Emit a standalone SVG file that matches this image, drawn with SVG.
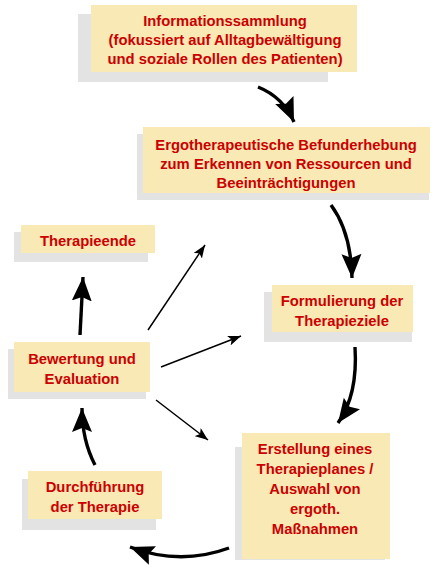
<svg xmlns="http://www.w3.org/2000/svg" width="433" height="565" viewBox="0 0 433 565">
<style>
.sh{fill:#E3E3E3}
.bx{fill:#F9E9B5}
.t{font-family:"Liberation Sans",Arial,sans-serif;font-weight:bold;font-size:14.8px;fill:#CC0000;text-anchor:middle}
.thick{fill:none;stroke:#000;stroke-width:3.4}
.thin{fill:none;stroke:#000;stroke-width:1.5}
</style>
<defs>
<marker id="big" markerUnits="userSpaceOnUse" markerWidth="26" markerHeight="22" refX="24" refY="10" orient="auto" viewBox="0 0 26 20">
<path d="M0,0 L24,10 L0,20 L4,10 Z" fill="#000"/>
</marker>
<marker id="small" markerUnits="userSpaceOnUse" markerWidth="14" markerHeight="10" refX="13" refY="5" orient="auto" viewBox="0 0 14 10">
<path d="M0,0 L13,5 L0,10 L3,5 Z" fill="#000"/>
</marker>
</defs>
<g id="n1">
<rect class="sh" x="78" y="14" width="250" height="68"/>
<rect class="bx" x="91" y="5" width="266" height="67"/>
<text class="t" x="225" y="26">Informationssammlung</text>
<text class="t" x="225" y="45">(fokussiert auf Alltagbewältigung</text>
<text class="t" x="225" y="64">und soziale Rollen des Patienten)</text>
</g>
<g id="n2">
<rect class="sh" x="137" y="134" width="292" height="66"/>
<rect class="bx" x="143" y="127" width="287" height="66"/>
<text class="t" x="286" y="150">Ergotherapeutische Befunderhebung</text>
<text class="t" x="286" y="169">zum Erkennen von Ressourcen und</text>
<text class="t" x="286" y="188">Beeinträchtigungen</text>
</g>
<g id="n3">
<rect class="sh" x="14" y="232" width="134" height="30"/>
<rect class="bx" x="21" y="225" width="134" height="28"/>
<text class="t" x="88" y="246">Therapieende</text>
</g>
<g id="n4">
<rect class="sh" x="264" y="292" width="148" height="50"/>
<rect class="bx" x="272" y="285" width="141" height="47"/>
<text class="t" x="342" y="306">Formulierung der</text>
<text class="t" x="342" y="326">Therapieziele</text>
</g>
<g id="n5">
<rect class="sh" x="8" y="349" width="138" height="50"/>
<rect class="bx" x="14" y="342" width="136" height="50"/>
<text class="t" x="82" y="364">Bewertung und</text>
<text class="t" x="82" y="384">Evaluation</text>
</g>
<g id="n6">
<rect class="sh" x="235" y="447" width="150" height="113"/>
<rect class="bx" x="242" y="433" width="148" height="126"/>
<text class="t" x="315" y="454">Erstellung eines</text>
<text class="t" x="315" y="474">Therapieplanes /</text>
<text class="t" x="315" y="494">Auswahl von</text>
<text class="t" x="315" y="514">ergoth.</text>
<text class="t" x="315" y="534">Maßnahmen</text>
</g>
<g id="n7">
<rect class="sh" x="22" y="479" width="134" height="51"/>
<rect class="bx" x="28" y="471" width="134" height="48"/>
<text class="t" x="95" y="492">Durchführung</text>
<text class="t" x="95" y="512">der Therapie</text>
</g>
<g id="connectors">
<path class="thick" d="M258,87 Q283,97 294,122" marker-end="url(#big)"/>
<path class="thick" d="M331,205 Q351,232 352,278" marker-end="url(#big)"/>
<path class="thick" d="M355,347 Q358,395 338,423" marker-end="url(#big)"/>
<path class="thick" d="M229,548 Q180,566 130,547" marker-end="url(#big)"/>
<path class="thick" d="M95,465 Q82,440 82,408" marker-end="url(#big)"/>
<path class="thick" d="M80,335 L83,277" marker-end="url(#big)"/>
<path class="thin" d="M148,330 L205,245" marker-end="url(#small)"/>
<path class="thin" d="M161,367 L241,336" marker-end="url(#small)"/>
<path class="thin" d="M156,400 L208,440" marker-end="url(#small)"/>
</g>
</svg>
